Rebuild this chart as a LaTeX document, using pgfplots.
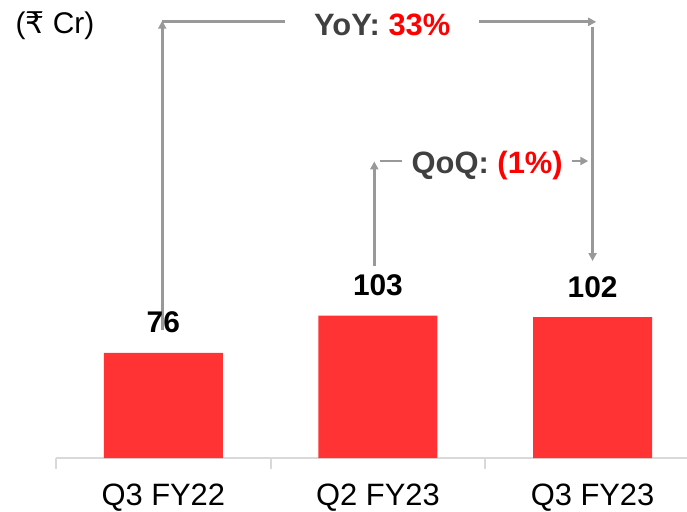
\documentclass[border=0pt]{standalone}
\usepackage{pgfplots}
\pgfplotsset{compat=1.18}
\usepackage{fontspec}
\setmainfont{Liberation Sans}
\newfontfamily\rupeefont{DejaVu Sans}
\usetikzlibrary{arrows.meta}

\definecolor{barred}{HTML}{FF3333}
\definecolor{txtred}{HTML}{FF0000}
\definecolor{txtgray}{HTML}{404040}
\definecolor{arrgray}{HTML}{999999}
\definecolor{axgray}{HTML}{D9D9D9}

\begin{document}
\begin{tikzpicture}[
    ann/.style={draw=arrgray, line width=2.7bp},
    arr/.style={ann, -{Triangle[length=8bp,width=8bp]}},
  ]
  \begin{axis}[
    scale only axis,
    width=631bp, height=458bp,
    xmin=-0.5, xmax=2.44,
    ymin=0, ymax=331.4,
    clip=false,
    axis x line*=bottom,
    axis y line=none,
    x axis line style={draw=axgray, line width=2bp},
    ybar,
    bar width=0.554,
    xtick={0,1,2},
    xticklabels={Q3 FY22, Q2 FY23, Q3 FY23},
    major tick length=0pt,
    minor xtick={-0.5,0.5,1.5},
    minor tick length=11bp,
    tick align=outside,
    minor tick style={draw=axgray, line width=2bp},
    xticklabel style={font=\fontsize{31}{37}\selectfont, anchor=base, inner sep=0pt, yshift=-47bp},
    nodes near coords={\pgfmathprintnumber[assume math mode=true]{\pgfplotspointmeta}},
    every node near coord/.append style={font=\bfseries\fontsize{30}{36}\selectfont,
      text=black, anchor=base, inner sep=0pt, yshift=20bp},
  ]
    \addplot[fill=barred, draw=none] coordinates {(0,76) (1,103) (2,102)};

    % YoY bracket
    \draw[arr] (axis cs:-0.005,92.6) -- (axis cs:-0.005,316.4);
    \draw[ann] (axis cs:-0.005,315.6) -- (axis cs:0.568,315.6);
    \draw[arr] (axis cs:1.472,315.6) -- (axis cs:2.017,315.6);
    \draw[arr] (axis cs:2.0,311.9) -- (axis cs:2.0,142.5);
    \node[anchor=base, inner sep=0pt, font=\bfseries\fontsize{31}{37}\selectfont]
      at (axis cs:1.02,305.4) {\textcolor{txtgray}{YoY:} \textcolor{txtred}{33\%}};

    % QoQ bracket
    \draw[arr] (axis cs:0.983,138.9) -- (axis cs:0.983,214.6);
    \draw[ann] (axis cs:1.01,214.9) -- (axis cs:1.113,214.9);
    \draw[arr] (axis cs:1.905,214.9) -- (axis cs:1.98,214.9);
    \node[anchor=base, inner sep=0pt, font=\bfseries\fontsize{31}{37}\selectfont]
      at (axis cs:1.509,206.2) {\textcolor{txtgray}{QoQ:} \textcolor{txtred}{(1\%)}};

    % unit label
    \node[anchor=base west, inner sep=0pt, font=\fontsize{30}{36}\selectfont]
      at (axis cs:-0.689,307.5) {({\rupeefont ₹} Cr)};
  \end{axis}
  \pgfresetboundingbox
  \path[use as bounding box] ([xshift=-56bp,yshift=-54bp]current axis.south west)
    rectangle (current axis.north east);
\end{tikzpicture}
\end{document}
